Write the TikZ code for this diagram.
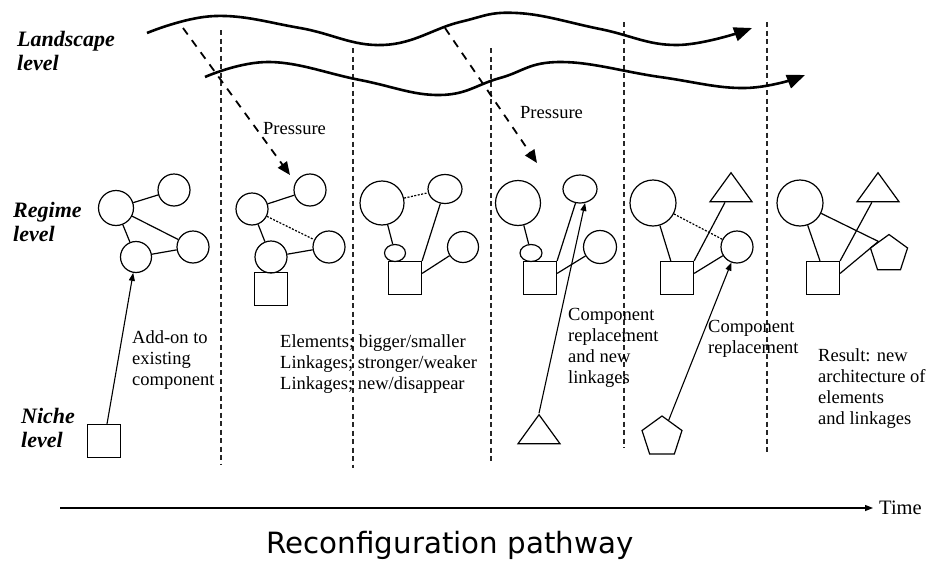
\documentclass[tikz,border=0pt]{standalone}
\usepackage{fontspec}
\setmainfont{Liberation Serif}
\newfontfamily\pathfont{DejaVu Sans}
\usetikzlibrary{arrows.meta,shapes.geometric,calc}
\begin{document}
\begin{tikzpicture}[x=1pt,y=-1pt,
  shp/.style={draw,line width=1.2pt,inner sep=0pt},
  circ/.style={shp,circle,minimum size=#1},
  ell/.style n args={2}{shp,ellipse,minimum width=#1,minimum height=#2},
  sq/.style={shp,rectangle,minimum size=33pt},
  tri/.style={shp,isosceles triangle,shape border rotate=90,isosceles triangle stretches,minimum width=42pt,minimum height=29pt},
  pent/.style={shp,regular polygon,regular polygon sides=5,minimum size=#1},
  link/.style={line width=1.2pt},
  weak/.style={line width=1.2pt,dash pattern=on 2pt off 1.5pt},
  vdash/.style={line width=1.5pt,dash pattern=on 5pt off 3.5pt,black!85},
  wave/.style={line width=2.6pt,-{Triangle[length=18pt,width=14pt]}},
  press/.style={line width=1.8pt,dash pattern=on 8pt off 7pt,-{Triangle[length=13pt,width=11pt]}},
  add/.style={line width=1.1pt,-{Triangle[length=8pt,width=6pt]}},
  txt/.style={inner sep=0pt,align=left,anchor=west,font=\fontsize{18.5}{21}\selectfont},
  lvl/.style={inner sep=0pt,align=left,anchor=west,font=\fontsize{22}{23.5}\selectfont\bfseries\itshape}]
\useasboundingbox (0,0) rectangle (931,562);

% vertical dashed separators
\coordinate (v1t) at (221,30);  \coordinate (v1b) at (221,464);
\coordinate (v2t) at (353,48);  \coordinate (v2b) at (353,468);
\coordinate (v3t) at (491,48);  \coordinate (v3b) at (491,463);
\coordinate (v4t) at (624,22);  \coordinate (v4b) at (624,448);
\coordinate (v5t) at (767,22);  \coordinate (v5b) at (767,452);
\foreach \v in {v1,v2,v3,v4,v5} \draw[vdash] (\v t) -- (\v b);

% landscape waves
\draw[wave] plot[smooth,tension=0.7] coordinates {(147,33) (215,16) (300,28) (383,45) (460,22) (517,13) (600,29) (677,45) (752,28)};
\draw[wave] plot[smooth,tension=0.7] coordinates {(205,77) (270,62) (360,80) (440,95) (500,78) (560,62) (660,77) (745,88) (805,75)};

% pressure arrows
\coordinate (p1s) at (183,28); \coordinate (p1e) at (290,175);
\coordinate (p2s) at (445,28); \coordinate (p2e) at (537,163);
\draw[press] (p1s) -- (p1e);
\draw[press] (p2s) -- (p2e);
\node[txt] (pr1) at (263,129) {Pressure};
\node[txt] (pr2) at (520,113) {Pressure};

% level labels
\node[lvl] (land) at (17,51) {Landscape\\level};
\node[lvl] (reg) at (13,222) {Regime\\level};
\node[lvl] (nich) at (21,428) {Niche\\level};

% graph 1
\node[circ=35pt] (A) at (116,208) {};
\node[circ=32pt] (B) at (174,190) {};
\node[circ=31pt] (C) at (136,257) {};
\node[circ=32pt] (D) at (193,247) {};
\draw[link] (A) -- (B);
\draw[link] (A) -- (C);
\draw[link] (A) -- (D);
\draw[link] (C) -- (D);

% graph 2
\node[circ=32pt] (E) at (252,209) {};
\node[circ=32pt] (F) at (310,190) {};
\node[circ=32pt] (G) at (271,257) {};
\node[circ=32pt] (H) at (329,247) {};
\node[sq] (S2) at (271,289) {};
\draw[link] (E) -- (F);
\draw[weak] (E) -- (H);
\draw[link] (E) -- (G);
\draw[link] (G) -- (H);

% graph 3
\node[circ=44pt] (I) at (382,203) {};
\node[ell={34pt}{29pt}] (J) at (445,189) {};
\node[ell={21pt}{17pt}] (K) at (395,253) {};
\node[sq] (S3) at (405,278) {};
\node[circ=31pt] (L) at (463,247) {};
\draw[weak] (I) -- (J);
\draw[link] (I) -- (K);
\draw[link] (J) -- (S3.north east);
\draw[link] (S3.15) -- (L);

% graph 4
\node[circ=45pt] (M) at (518,203) {};
\node[ell={34pt}{28pt}] (N) at (580,189) {};
\node[ell={22pt}{17pt}] (K2) at (531,253) {};
\node[sq] (S4) at (540,278) {};
\node[circ=33pt] (O) at (600,247) {};
\draw[link] (M) -- (K2);
\draw[link] (N) -- (S4.north east);
\draw[link] (S4.15) -- (O);

% graph 5
\node[circ=46pt] (P) at (653,203) {};
\node[tri] (T1) at (731,191) {};
\node[circ=32pt] (Q) at (737,247) {};
\node[sq] (S5) at (677,278) {};
\draw[weak] (P) -- (Q);
\draw[link] (P) -- (S5.110);
\draw[link] (T1) -- (S5.north east);
\draw[link] (S5.15) -- (Q);

% graph 6
\node[circ=46pt] (R) at (800,203) {};
\node[tri] (T2) at (878,191) {};
\node[pent=39pt] (PG) at (889,254) {};
\node[sq] (S6) at (823,278) {};
\coordinate (PGx) at ($(PG.corner 1)!0.55!(PG.corner 2)$);
\draw[link] (R) -- (PGx);
\draw[link] (R) -- (S6.100);
\draw[link] (T2) -- (S6.north east);
\draw[link] (S6.15) -- (PGx);

% niche level
\node[sq] (NS) at (104,441) {};
\node[tri] (NT) at (539,433) {};
\node[pent=42pt] (NP) at (662,437) {};
\draw[add] (NS.80) -- (C.-100);
\draw[add] (NT.apex) -- (N.-70);
\draw[add] (NP) -- (Q.-110);

% texts
\node[txt] (t1) at (132,360) {Add-on to\\existing\\component};
\node[txt] (t2) at (280,364) {Elements; bigger/smaller\\Linkages; stronger/weaker\\Linkages; new/disappear};
\node[txt] (t3) at (568,348) {Component\\replacement\\and new\\linkages};
\node[txt] (t4) at (708,339) {Component\\replacement};
\node[txt] (t5) at (818,389) {Result: new\\architecture of\\elements\\and linkages};

% time axis
\coordinate (t0) at (60,508);
\node[inner ysep=0pt,inner xsep=6pt,anchor=west,font=\fontsize{20.5}{22}\selectfont] (time) at (873,508) {Time};
\draw[line width=1.3pt,-{Triangle[length=8pt,width=6pt]}] (t0) -- (time.west);

\node[font=\pathfont\fontsize{29.3}{31}\selectfont] (rp) at (450,545) {Reconfiguration pathway};
\end{tikzpicture}
\end{document}
